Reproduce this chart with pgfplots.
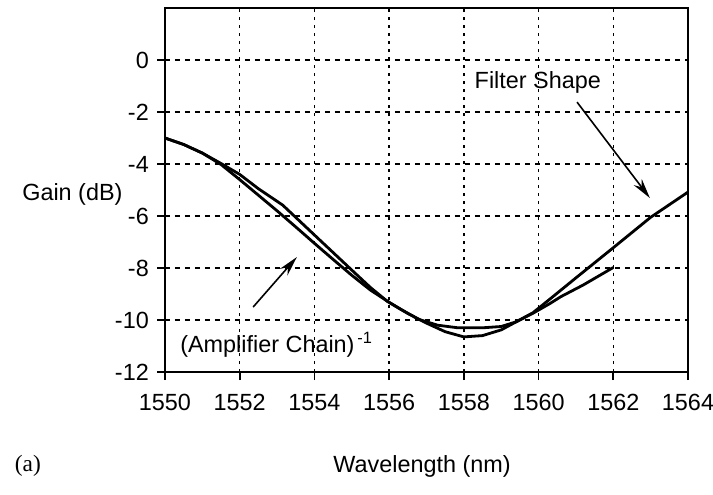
\documentclass[border=0pt]{standalone}
\usepackage{fontspec}
\setmainfont{Liberation Sans}
\newfontfamily\seriffont{Liberation Serif}
\usepackage{pgfplots}
\pgfplotsset{compat=1.18}
\usetikzlibrary{arrows.meta}
\begin{document}
\fontsize{11.7}{14}\selectfont
\begin{tikzpicture}
\begin{axis}[name=ax, width=261.5pt, height=182pt, scale only axis,
  xmin=1550, xmax=1564, ymin=-12, ymax=2,
  xtick={1550,1552,...,1564},
  xticklabels={1550,1552,1554,1556,1558,1560,1562,1564},
  ytick={-12,-10,...,0},
  yticklabels={-12,-10,-8,-6,-4,-2,0},
  xticklabel style={anchor=north, text height=8.5pt, text depth=0pt, yshift=-2.5pt},
  tick pos=left, tick align=outside, major tick length=4pt,
  tick style={black, line width=0.8pt},
  axis line style={line width=1.2pt},
  grid=major,
  major x grid style={black, line width=0.7pt, dash pattern=on 1.5pt off 2.5pt},
  major y grid style={black, line width=0.7pt, dash pattern=on 2.5pt off 2.5pt},
  clip=false,
]
% Filter shape
\addplot[black, line width=1.4pt, line join=round] coordinates {
(1550,-3.0) (1550.5,-3.25) (1551,-3.58) (1551.5,-4.02) (1552,-4.6) (1552.5,-5.2)
(1553,-5.8) (1553.5,-6.42) (1554,-7.05) (1554.5,-7.67) (1555,-8.28) (1555.5,-8.85)
(1556,-9.32) (1556.5,-9.75) (1557,-10.12) (1557.5,-10.45) (1558,-10.65) (1558.5,-10.6)
(1559,-10.38) (1559.4,-10.07) (1559.85,-9.72) (1560.3,-9.2) (1561,-8.38) (1562,-7.22)
(1563,-6.05) (1564,-5.08)
};
% (Amplifier chain)^-1
\addplot[black, line width=1.4pt, line join=round] coordinates {
(1550,-3.0) (1550.5,-3.25) (1551,-3.58) (1551.5,-3.98) (1552,-4.4) (1552.5,-4.95)
(1553.15,-5.58) (1554,-6.73) (1555,-8.08) (1555.5,-8.75) (1555.95,-9.28) (1556.3,-9.58)
(1556.8,-9.98) (1557.3,-10.2) (1557.84,-10.3) (1558.5,-10.3) (1559,-10.25) (1559.4,-10.07)
(1559.85,-9.74) (1560.3,-9.37) (1560.6,-9.1) (1561.2,-8.65) (1562,-7.98)
};
\node[anchor=center] at (axis cs:1559.98,-0.88) {Filter Shape};
\draw[-{Stealth[length=10pt,width=5pt]}, line width=0.8pt] (axis cs:1561.03,-1.62) -- (axis cs:1562.98,-5.31);
\node[anchor=west, inner sep=0pt] at (axis cs:1550.4,-10.96) {(Amplifier Chain)\textsuperscript{\,-1}};
\draw[-{Stealth[length=10pt,width=5pt]}, line width=0.8pt] (axis cs:1552.36,-9.5) -- (axis cs:1553.53,-7.58);
\node[anchor=west, inner sep=0pt] at (axis cs:1546.17,-5.19) {Gain (dB)};
\node[anchor=center] at (axis cs:1556.88,-15.62) {Wavelength (nm)};
\node[anchor=center, font=\seriffont] at (axis cs:1546.33,-15.62) {(a)};
\end{axis}
\pgfresetboundingbox
\path ([shift={(-82.5pt,-61pt)}]ax.south west) rectangle ([shift={(12.5pt,4pt)}]ax.north east);
\end{tikzpicture}
\end{document}
